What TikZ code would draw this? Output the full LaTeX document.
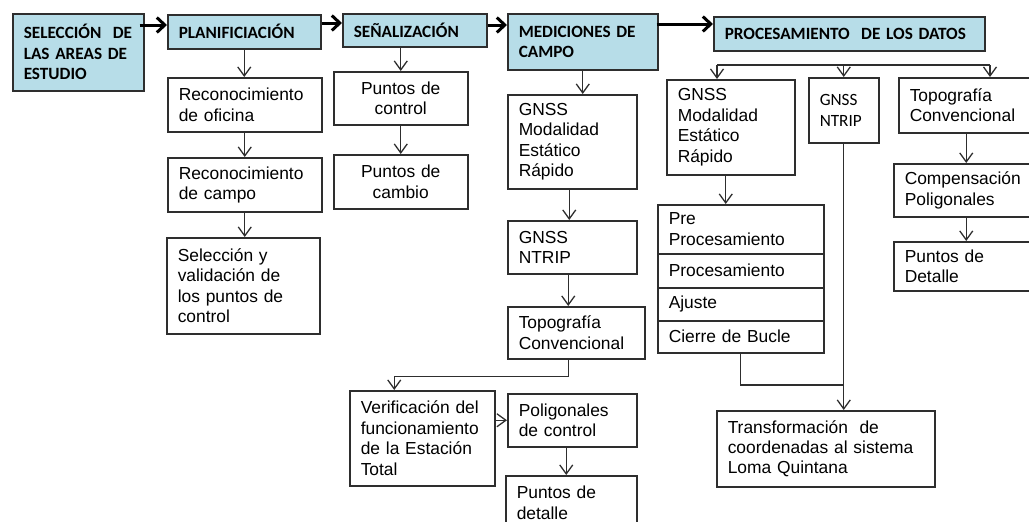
\documentclass[tikz,border=0pt]{standalone}
\usepackage{fontspec}
\setmainfont{Liberation Sans}
\newfontfamily\calibri{Carlito}
\usepackage{tikz}
\usetikzlibrary{arrows.meta, positioning}

\definecolor{celeste}{HTML}{B7DDE8}
\definecolor{borde}{HTML}{2E2E2E}

\begin{document}
\begin{tikzpicture}[x=1pt, y=-1pt, >={Straight Barb[length=9pt,width=13pt]},
    caja/.style={draw=borde, line width=1.5pt, anchor=north west, align=left,
        inner xsep=11pt, inner ysep=0pt, font=\fontsize{17.4}{20.4}\selectfont},
    etapa/.style={caja, fill=celeste, font=\calibri\bfseries\fontsize{17.2}{20.5}\selectfont},
    flecha/.style={->, draw=borde, line width=1.3pt},
    linea/.style={draw=borde, line width=1.3pt},
    gruesa/.style={-{Straight Barb[length=8pt,width=15pt]}, line width=3pt, draw=black}]
    \useasboundingbox (0,0) rectangle (1029,522);
    \clip (0,0) rectangle (1029,522);

    % etapas
    \node[etapa, text width=109pt, minimum height=77pt] (sel) at (12,13) {SELECCIÓN~ DE\\LAS AREAS DE\\ESTUDIO};
    \node[etapa, text width=131pt, minimum height=34pt] (plan) at (167,14) {PLANIFICIACIÓN};
    \node[etapa, text width=122pt, minimum height=33pt] (sen) at (342,13) {SEÑALIZACIÓN};
    \node[etapa, text width=128pt, minimum height=56pt] (med) at (507,13) {MEDICIONES DE\\CAMPO};
    \node[etapa, text width=249pt, minimum height=34pt] (proc) at (713,16) {PROCESAMIENTO~ DE LOS DATOS};

    \draw[gruesa] ([xshift=-5pt,yshift=-12pt]sel.north east) -- ([yshift=-11pt]plan.north west);
    \draw[gruesa] ([yshift=-9pt]plan.north east) -- ([yshift=-10pt]sen.north west);
    \draw[gruesa] ([yshift=-12pt]sen.north east) -- ([yshift=-12pt]med.north west);
    \draw[gruesa] ([xshift=-2pt,yshift=-11pt]med.north east) -- ([yshift=-8pt]proc.north west);

    % planificacion
    \node[caja, text width=132pt, minimum height=54pt] (rof) at (167,77) {Reconocimiento\\de oficina};
    \node[caja, text width=132pt, minimum height=54pt] (rcam) at (167,157) {Reconocimiento\\de campo};
    \node[caja, text width=131pt, minimum height=96pt] (selval) at (166,237) {Selección y\\validación de\\los puntos de\\control};
    \draw[flecha] (plan.south) -- (plan.south |- rof.north);
    \draw[flecha] (rof.south) -- (rcam.north);
    \draw[flecha] (rcam.south) -- (rcam.south |- selval.north);

    % senalizacion
    \node[caja, align=center, text width=112pt, minimum height=53pt] (pctrl) at (333,71) {Puntos de\\control};
    \node[caja, align=center, text width=112pt, minimum height=54pt] (pcam) at (333,154) {Puntos de\\cambio};
    \draw[flecha] (pctrl.north |- sen.south) -- (pctrl.north);
    \draw[flecha] (pctrl.south) -- (pcam.north);

    % mediciones de campo
    \node[caja, text width=107pt, minimum height=94pt] (gnss1) at (507,94) {GNSS\\Modalidad\\Estático\\Rápido};
    \node[caja, text width=107pt, minimum height=53pt] (ntrip1) at (507,220) {GNSS\\NTRIP};
    \node[caja, text width=115pt, minimum height=52pt] (topo1) at (507,306) {Topografía\\Convencional};
    \node[caja, text width=123pt, minimum height=95pt] (verif) at (349,390) {Verificación del\\funcionamiento\\de la Estación\\Total};
    \node[caja, text width=107pt, minimum height=53pt] (polig) at (507,393) {Poligonales\\de control};
    \node[caja, text width=109pt, minimum height=54pt] (pdet) at (505,475) {Puntos de\\detalle};
    \draw[flecha] (med.south) -- (med.south |- gnss1.north);
    \draw[flecha] ([xshift=-3pt]gnss1.south) -- ([xshift=-3pt]ntrip1.north);
    \draw[flecha] ([xshift=-4pt]ntrip1.south) -- ([xshift=-4pt]ntrip1.south |- topo1.north);
    \draw[flecha] ([xshift=-8pt]topo1.south) -- ++(0,17) -| ([xshift=-28pt]verif.north);
    \draw[flecha] (polig.west -| verif.east) -- (polig.west);
    \draw[flecha] ([xshift=-6pt]polig.south) -- ([xshift=-6pt]polig.south |- pdet.north);

    % procesamiento de los datos
    \node[caja, text width=106pt, minimum height=95pt] (gnss2) at (666,79) {GNSS\\Modalidad\\Estático\\Rápido};
    \node[caja, text width=48pt, minimum height=65pt, font=\calibri\fontsize{17.2}{20.5}\selectfont] (ntrip2) at (808,77) {GNSS\\NTRIP};
    \node[caja, text width=118pt, minimum height=55pt] (topo2) at (898,77) {Topografía\\Convencional};
    \node[caja, text width=123pt, minimum height=53pt] (comp) at (893,163) {Compensación\\Poligonales};
    \node[caja, text width=123pt, minimum height=49pt] (pdet2) at (893,241) {Puntos de\\Detalle};
    \node[caja, text width=144pt, minimum height=49pt] (pre1) at (657,204) {Pre\\Procesamiento};
    \node[caja, text width=144pt, minimum height=34pt] (pre2) at (657,253) {Procesamiento};
    \node[caja, text width=144pt, minimum height=33pt] (pre3) at (657,287) {Ajuste};
    \node[caja, text width=144pt, minimum height=32pt] (pre4) at (657,320) {Cierre de Bucle};
    \node[caja, text width=196pt, minimum height=76pt] (trans) at (716,410) {Transformación~ de\\coordenadas al sistema\\Loma Quintana};

    \coordinate (ramaI) at (717,65);
    \coordinate (ramaD) at (990,65);
    \draw[linea] (ramaI) -- (ramaD);
    \draw[flecha] (ramaI) -- (ramaI |- gnss2.north);
    \draw[flecha] (ntrip2.north |- ramaI) -- (ntrip2.north);
    \draw[flecha] (ramaD) -- (ramaD |- topo2.north);
    \draw[flecha] (comp.north |- topo2.south) -- (comp.north);
    \draw[flecha] (comp.south) -- (pdet2.north);
    \draw[flecha] ([xshift=-5pt]gnss2.south) -- ([xshift=-5pt]gnss2.south |- pre1.north);
    \draw[linea] (pre4.south) |- (ntrip2.south |- 0,385);
    \draw[flecha] (ntrip2.south) -- (ntrip2.south |- trans.north);
\end{tikzpicture}
\end{document}
